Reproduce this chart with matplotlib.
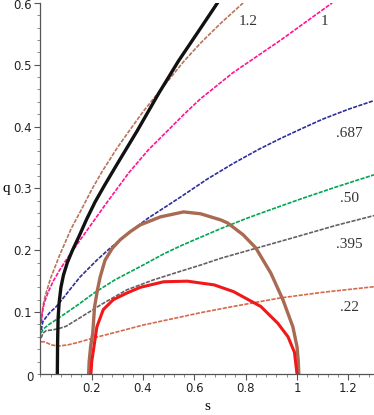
import matplotlib
matplotlib.use("Agg")
import matplotlib.pyplot as plt
import matplotlib.transforms as mtransforms
from matplotlib.ticker import MultipleLocator

# curve family (s, q)
s_12 = [0.003, 0.01, 0.02, 0.04, 0.076, 0.12, 0.155, 0.2, 0.24, 0.3, 0.346, 0.4, 0.46,
        0.558, 0.624, 0.7, 0.79]
q_12 = [0.085, 0.11, 0.128, 0.155, 0.193, 0.235, 0.262, 0.298, 0.327, 0.366, 0.393, 0.424,
        0.455, 0.505, 0.535, 0.566, 0.60]

s_1 = [0.003, 0.008, 0.015, 0.03, 0.05, 0.075, 0.10, 0.13, 0.19, 0.25, 0.344, 0.42, 0.495,
       0.56, 0.624, 0.75, 0.937, 1.137]
q_1 = [0.082, 0.10, 0.115, 0.132, 0.15, 0.168, 0.184, 0.202, 0.237, 0.272, 0.325, 0.362,
       0.393, 0.42, 0.445, 0.487, 0.54, 0.60]

s_687 = [0.003, 0.01, 0.036, 0.06, 0.084, 0.12, 0.155, 0.22, 0.268, 0.35, 0.42, 0.487, 0.546,
         0.65, 0.75, 0.85, 0.937, 1.02, 1.1, 1.2, 1.3]
q_687 = [0.071, 0.085, 0.099, 0.108, 0.12, 0.139, 0.157, 0.184, 0.202, 0.23, 0.252, 0.27, 0.286,
         0.315, 0.34, 0.363, 0.381, 0.397, 0.412, 0.428, 0.442]

s_50 = [0.003, 0.01, 0.03, 0.07, 0.147, 0.206, 0.29, 0.4, 0.48, 0.546, 0.624, 0.703, 0.8,
        0.886, 1.015, 1.15, 1.3]
q_50 = [0.066, 0.072, 0.079, 0.09, 0.112, 0.13, 0.152, 0.176, 0.194, 0.207, 0.221, 0.235, 0.251,
        0.264, 0.283, 0.302, 0.322]

s_395 = [0.003, 0.01, 0.023, 0.045, 0.069, 0.1, 0.155, 0.24, 0.337, 0.44, 0.546, 0.624, 0.703,
         0.83, 1.0, 1.15, 1.3]
q_395 = [0.058, 0.066, 0.07, 0.071, 0.073, 0.077, 0.091, 0.113, 0.136, 0.152, 0.166, 0.176, 0.187,
         0.202, 0.222, 0.24, 0.256]

s_22 = [0.002, 0.016, 0.042, 0.069, 0.108, 0.147, 0.206, 0.29, 0.4, 0.546, 0.624, 0.75, 0.937,
        1.1, 1.3]
q_22 = [0.052, 0.052, 0.047, 0.045, 0.047, 0.051, 0.058, 0.067, 0.079, 0.092, 0.099, 0.109,
        0.123, 0.132, 0.141]

# thick curves
s_black = [0.066, 0.067, 0.069, 0.073, 0.08, 0.09, 0.105, 0.125, 0.15, 0.18, 0.213, 0.25, 0.3,
           0.377, 0.46, 0.538, 0.624, 0.69]
q_black = [0.0, 0.05, 0.09, 0.115, 0.14, 0.16, 0.18, 0.2, 0.222, 0.25, 0.278, 0.305, 0.34,
           0.393, 0.453, 0.506, 0.559, 0.60]

s_brown = [0.188, 0.19, 0.196, 0.204, 0.211, 0.222, 0.233, 0.252, 0.28, 0.311, 0.35, 0.389, 0.468,
           0.558, 0.624, 0.703, 0.73, 0.79, 0.839, 0.898, 0.945, 0.984, 1.0, 1.005, 1.007]
q_brown = [0.0, 0.02, 0.045, 0.066, 0.108, 0.135, 0.157, 0.184, 0.203, 0.217, 0.23, 0.241, 0.254,
           0.262, 0.259, 0.249, 0.244, 0.225, 0.204, 0.163, 0.12, 0.076, 0.044, 0.02, 0.0]

s_red = [0.197, 0.2, 0.207, 0.22, 0.245, 0.284, 0.338, 0.389, 0.48, 0.573, 0.624, 0.677, 0.753,
         0.859, 0.925, 0.965, 0.99, 1.0]
q_red = [0.0, 0.02, 0.039, 0.076, 0.104, 0.12, 0.131, 0.14, 0.149, 0.15, 0.147, 0.144, 0.133,
         0.109, 0.082, 0.06, 0.035, 0.0]

labels = ["1.2", "1", ".687", ".50", ".395", ".22"]
label_s = [0.808, 1.106, 1.203, 1.203, 1.203, 1.203]
label_q = [0.570, 0.570, 0.389, 0.283, 0.210, 0.108]

fig = plt.figure(figsize=(3.74, 4.15), dpi=100)
ax = fig.add_axes([0.108, 0.099, 0.892, 0.894])

dash = (0, (2.5, 0.8))
ax.plot(s_12, q_12, color="#b8755a", lw=1.2, ls=dash)
ax.plot(s_1, q_1, color="#ff1493", lw=1.2, ls=dash)
ax.plot(s_687, q_687, color="#2e2e9a", lw=1.2, ls=dash)
ax.plot(s_50, q_50, color="#00a651", lw=1.2, ls=dash)
ax.plot(s_395, q_395, color="#666066", lw=1.2, ls=dash)
ax.plot(s_22, q_22, color="#d8684a", lw=1.2, ls=dash)

ax.plot(s_black, q_black, color="#111111", lw=2.4)
ax.plot(s_brown, q_brown, color="#a86a52", lw=2.4)
ax.plot(s_red, q_red, color="#f01818", lw=2.2)

for t, x, y in zip(labels, label_s, label_q):
    ax.text(x, y, t, family="Liberation Serif", fontsize=11, color="#333333",
            ha="center", va="center")

ax.set_xlim(0, 1.3)
ax.set_ylim(0, 0.6)
for side in ["top", "right"]:
    ax.spines[side].set_visible(False)
for side in ["left", "bottom"]:
    ax.spines[side].set_color("#555555")
    ax.spines[side].set_linewidth(0.9)

ax.set_xticks([0.2, 0.4, 0.6, 0.8, 1.0, 1.2])
ax.set_xticklabels(["0.2", "0.4", "0.6", "0.8", "1", "1.2"])
ax.set_yticks([0.1, 0.2, 0.3, 0.4, 0.5, 0.6])
ax.set_yticklabels(["0.1", "0.2", "0.3", "0.4", "0.5", "0.6"])
ax.xaxis.set_minor_locator(MultipleLocator(0.04))
ax.yaxis.set_minor_locator(MultipleLocator(0.02))
ax.tick_params(which="major", length=4, width=0.8, color="#555555",
               labelsize=8.5, labelcolor="#222222", pad=2)
ax.tick_params(which="minor", length=2, width=0.6, color="#777777")

# nudge the top label down so it is not clipped
top_lab = ax.get_yticklabels()[-1]
top_lab.set_transform(top_lab.get_transform() +
                      mtransforms.ScaledTranslation(0, -1.5 / 100, fig.dpi_scale_trans))

ax.text(-0.025, -0.006, "0", fontsize=8.5, color="#222222", ha="right", va="center")

fig.text(6 / 374, 1 - 188 / 415, "q", family="Liberation Serif", fontsize=11,
         ha="center", va="center")
fig.text(207 / 374, 1 - 406 / 415, "s", family="Liberation Serif", fontsize=11,
         ha="center", va="center")

fig.savefig("out.png", dpi=100)
